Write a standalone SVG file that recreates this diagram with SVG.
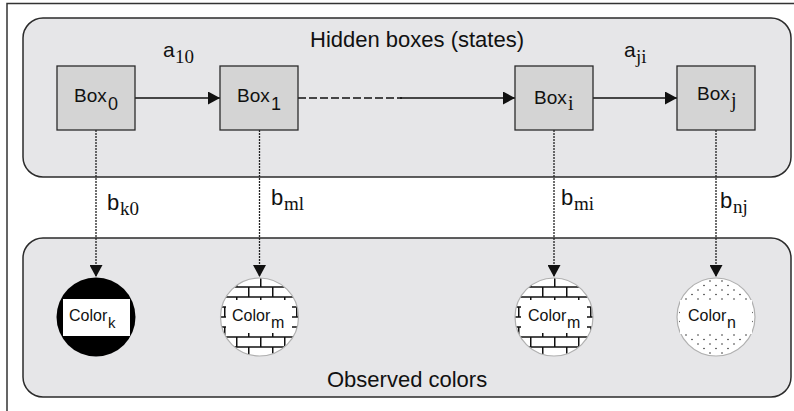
<svg xmlns="http://www.w3.org/2000/svg" width="794" height="411" viewBox="0 0 794 411">
<style>
.frame{fill:#ffffff;stroke:#333;stroke-width:1.5}
.panel{fill:#e6e6e8;stroke:#2b2b2b;stroke-width:1.5}
.box{fill:#d4d4d4;stroke:#2b2b2b;stroke-width:1.3}
.sans{font-family:"Liberation Sans",Arial,sans-serif;fill:#111}
.serif{font-family:"Liberation Serif","Times New Roman",serif;fill:#111}
.solid{stroke:#111;stroke-width:1.3;fill:none}
.dash{stroke:#111;stroke-width:1.3;fill:none;stroke-dasharray:8 3}
.dot{stroke:#222;stroke-width:1.3;fill:none;stroke-dasharray:2 1}
.ring{stroke:#b0b0b0;stroke-width:1.2}
</style>
<defs>
<marker id="ah" markerUnits="userSpaceOnUse" markerWidth="13" markerHeight="13" refX="12" refY="6.5" orient="auto">
<path d="M0,0 L12,6.5 L0,13 z" fill="#111"/>
</marker>
<pattern id="brick1" patternUnits="userSpaceOnUse" x="20" y="277" width="24" height="20">
<rect width="24" height="20" fill="#fff"/>
<path d="M0,10 H24 M0,20 H24 M0,0 H24 M0.75,0 V10 M12.75,10 V20" stroke="#111" stroke-width="1.5" fill="none"/>
</pattern>
<pattern id="brick2" patternUnits="userSpaceOnUse" x="2" y="277" width="24" height="20">
<rect width="24" height="20" fill="#fff"/>
<path d="M0,10 H24 M0,20 H24 M0,0 H24 M0.75,0 V10 M12.75,10 V20" stroke="#111" stroke-width="1.5" fill="none"/>
</pattern>
<pattern id="dots" patternUnits="userSpaceOnUse" x="0" y="0" width="12" height="9">
<rect width="12" height="9" fill="#fff"/>
<circle cx="2" cy="2" r="0.8" fill="#333"/>
<circle cx="8" cy="6.5" r="0.8" fill="#333"/>
</pattern>
</defs>

<rect class="frame" x="7" y="3.5" width="800" height="420"/>

<g id="hidden-panel">
<rect class="panel" x="23" y="18" width="768" height="159" rx="20" ry="20"/>
<text class="sans" x="310" y="46.5" font-size="22">Hidden boxes (states)</text>
</g>

<g id="observed-panel">
<rect class="panel" x="23" y="238" width="768" height="159" rx="20" ry="20"/>
<text class="sans" x="327" y="386.5" font-size="22">Observed colors</text>
</g>

<g id="connectors">
<line class="solid" x1="135" y1="98" x2="220" y2="98" marker-end="url(#ah)"/>
<line class="dash" x1="298" y1="98" x2="402" y2="98"/>
<line class="solid" x1="400" y1="98" x2="515" y2="98" marker-end="url(#ah)"/>
<line class="solid" x1="593" y1="98" x2="677" y2="98" marker-end="url(#ah)"/>
<line class="dot" x1="96" y1="130" x2="96" y2="277" marker-end="url(#ah)"/>
<line class="dot" x1="259.5" y1="130" x2="259.5" y2="277" marker-end="url(#ah)"/>
<line class="dot" x1="554" y1="130" x2="554" y2="277" marker-end="url(#ah)"/>
<line class="dot" x1="716" y1="130" x2="716" y2="277" marker-end="url(#ah)"/>
<text class="sans" x="163" y="57" font-size="21">a<tspan class="serif" x="175" y="63" font-size="19">10</tspan></text>
<text class="sans" x="624" y="57" font-size="21">a<tspan class="serif" x="636" y="63" font-size="19">ji</tspan></text>
<text class="sans" x="107" y="210" font-size="22">b<tspan class="serif" x="120" y="215" font-size="19">k0</tspan></text>
<text class="sans" x="271" y="205" font-size="22">b<tspan class="serif" x="284" y="210" font-size="19">ml</tspan></text>
<text class="sans" x="561" y="205" font-size="22">b<tspan class="serif" x="574" y="210" font-size="19">mi</tspan></text>
<text class="sans" x="720" y="208" font-size="22">b<tspan class="serif" x="733" y="213" font-size="19">nj</tspan></text>
</g>

<g id="box0">
<rect class="box" x="57" y="66" width="78" height="64"/>
<text class="sans" x="74" y="102" font-size="19">Box<tspan x="108" y="110" font-size="18">0</tspan></text>
</g>
<g id="box1">
<rect class="box" x="220" y="66" width="78" height="64"/>
<text class="sans" x="237" y="102" font-size="19">Box<tspan x="271" y="110" font-size="18">1</tspan></text>
</g>
<g id="boxi">
<rect class="box" x="515" y="66" width="78" height="64"/>
<text class="sans" x="534" y="104" font-size="19">Box<tspan class="serif" x="568" y="110" font-size="20">i</tspan></text>
</g>
<g id="boxj">
<rect class="box" x="677" y="66" width="78" height="64"/>
<text class="sans" x="697" y="100" font-size="19">Box<tspan class="serif" x="731" y="107" font-size="20">j</tspan></text>
</g>

<g id="color-k">
<circle cx="96" cy="317" r="39.5" fill="#000"/>
<rect x="63" y="299" width="67" height="37" fill="#fff"/>
<text class="sans" x="69" y="321" font-size="16">Color<tspan x="108" y="328" font-size="15">k</tspan></text>
</g>
<g id="color-m1">
<circle cx="259.5" cy="317" r="39" fill="url(#brick1)" class="ring"/>
<rect x="226" y="300" width="66" height="33" fill="#fff"/>
<text class="sans" x="232" y="321" font-size="16">Color<tspan x="271" y="328" font-size="16">m</tspan></text>
</g>
<g id="color-m2">
<circle cx="554" cy="317" r="39" fill="url(#brick2)" class="ring"/>
<rect x="521" y="300" width="66" height="33" fill="#fff"/>
<text class="sans" x="528" y="321" font-size="16">Color<tspan x="567" y="328" font-size="16">m</tspan></text>
</g>
<g id="color-n">
<circle cx="716" cy="317" r="39" fill="url(#dots)" class="ring"/>
<rect x="680" y="300" width="72" height="34" fill="#fff"/>
<text class="sans" x="688" y="321" font-size="16">Color<tspan x="727" y="328" font-size="16">n</tspan></text>
</g>
</svg>
